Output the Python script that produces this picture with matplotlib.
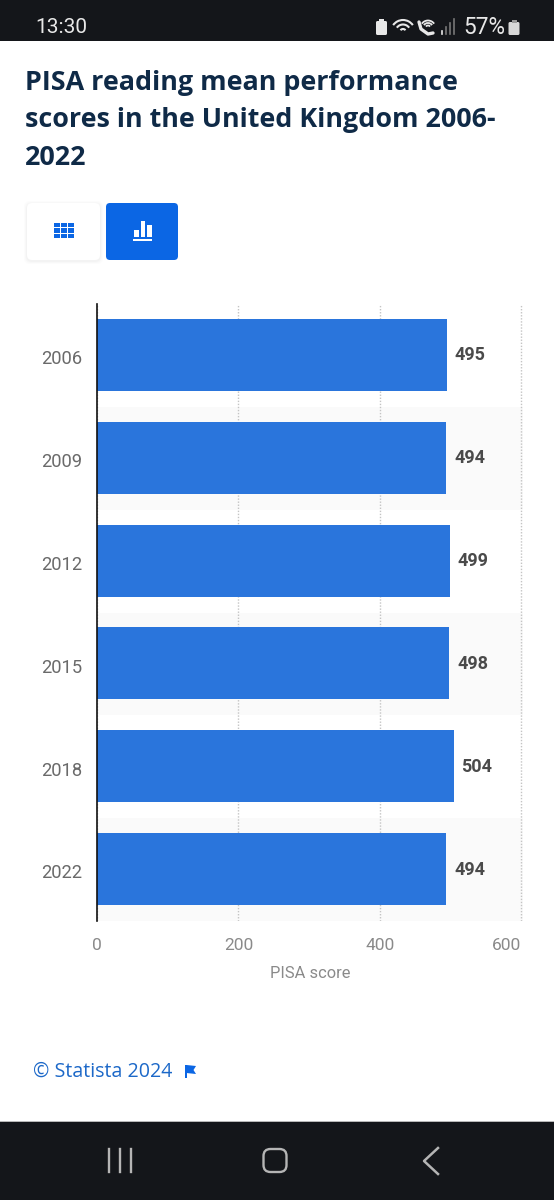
# PISA reading scores for the UK, as seen in a phone screenshot of the Statista page

import matplotlib
matplotlib.use("Agg")
import matplotlib.pyplot as plt
import matplotlib.transforms as mtrans
from matplotlib.patches import FancyBboxPatch, Rectangle, Polygon, Arc

anos = ["2006", "2009", "2012", "2015", "2018", "2022"]
pontuacao = [495, 494, 499, 498, 504, 494]
ticks_x = [0, 200, 400, 600]
titulo = ["PISA reading mean performance", "scores in the United Kingdom 2006-", "2022"]

W, H = 554, 1200
ESCURO = "#14161a"
AZUL = "#2a75dc"
AZUL_BOTAO = "#0b66e4"

fig = plt.figure(figsize=(W / 100, H / 100), dpi=100, facecolor="white")

# the chart itself
ax = fig.add_axes([97 / W, 1 - 921 / H, (522.5 - 97) / W, (921 - 304) / H])
ax.set_xlim(0, 601.5)
ax.set_ylim(len(anos) - 0.5, -0.5)
for i in range(1, len(anos), 2):
    ax.axhspan(i - 0.5, i + 0.5, color="#fafafa", lw=0, zorder=0)
ax.set_xticks(ticks_x)
ax.grid(axis="x", color="#c4c4c4", linestyle=(0, (1, 1.2)), linewidth=1, zorder=1)
ax.barh([i - 0.005 for i in range(len(anos))], pontuacao, height=0.70, color=AZUL, zorder=2)
for i, v in enumerate(pontuacao):
    ax.annotate(str(v), (v, i), xytext=(5.6, 0), textcoords="offset points", va="center", ha="left",
                family="Roboto", weight="bold", fontsize=13, color="#4a4a4a")

for s in ["top", "right", "bottom"]:
    ax.spines[s].set_visible(False)
ax.spines["left"].set_color("#111111")
ax.spines["left"].set_linewidth(1.2)
ax.spines["left"].set_zorder(5)
ax.set_facecolor("white")

ax.set_yticks(range(len(anos)))
ax.set_yticklabels(anos, family="Roboto", fontsize=13.2, color="#6a6a6a")
ax.tick_params(axis="y", length=0, pad=10.5)
ax.tick_params(axis="x", length=0, pad=12.5)
ax.set_xticklabels([str(t) for t in ticks_x], family="Roboto", fontsize=12.5, color="#8a8a8a")
ax.get_xticklabels()[-1].set_ha("right")
ax.set_xlabel("PISA score", family="Roboto", fontsize=11.9, color="#8a8a8a", labelpad=9)
# year labels sit a little lower than the bar centres
desce = mtrans.ScaledTranslation(0, -1.8 / 100, fig.dpi_scale_trans)
for lab in ax.get_yticklabels():
    lab.set_transform(lab.get_transform() + desce)

# page chrome, in pixel coordinates
tela = fig.add_axes([0, 0, 1, 1], zorder=-1)
tela.set_xlim(0, W)
tela.set_ylim(H, 0)
tela.axis("off")
topo = fig.add_axes([0, 0, 1, 1], zorder=3)
topo.set_xlim(0, W)
topo.set_ylim(H, 0)
topo.axis("off")
topo.patch.set_alpha(0)

tela.add_patch(Rectangle((0, 0), W, 41, color=ESCURO, lw=0))
tela.add_patch(Rectangle((0, 1122), W, 78, color=ESCURO, lw=0))
tela.add_patch(Rectangle((0, 1120.5), W, 1.5, color="#b8b8b8", lw=0))

# status bar
topo.text(35, 27.5, "13:30", family="Roboto", fontsize=15, color="#e8e8e8", va="center", ha="left")
topo.text(463, 27.5, "57%", family="Roboto", fontsize=16.3, color="#e8e8e8", va="center", ha="left")
topo.add_patch(FancyBboxPatch((376, 21), 11, 14, boxstyle="round,pad=0,rounding_size=1.5", color="#e8e8e8", lw=0))
topo.add_patch(Rectangle((379, 19), 5, 2, color="#e8e8e8", lw=0))
topo.add_patch(FancyBboxPatch((508.5, 22), 11, 13, boxstyle="round,pad=0,rounding_size=1.5", color="#d8d8d8", lw=0))
topo.add_patch(Rectangle((511.5, 19.5), 5, 3, color="#9a9a9a", lw=0))
for r in [6, 15, 24]:
    topo.add_patch(Arc((403, 32), r, r, theta1=215, theta2=325, color="#e8e8e8", lw=1.5))
for r in [5, 10, 15]:
    topo.add_patch(Arc((428, 28), r, r, theta1=215, theta2=325, color="#e8e8e8", lw=1.3))
topo.plot([419, 421, 428, 433], [22, 29, 34, 33], color="#e8e8e8", lw=2.4, solid_capstyle="round")
for k, alt in enumerate([3, 7, 11, 15]):
    topo.plot([442 + k * 4] * 2, [34, 34 - alt], color="#e8e8e8" if k == 0 else "#777777", lw=1.2)

# title
for y, linha in zip([83, 120, 158], titulo):
    topo.text(25, y, linha, family="Open Sans", weight="bold", fontsize=19.4, color="#0f2a47",
              va="center", ha="left")

# view switch buttons
for off, alfa in [(3, 0.012), (2, 0.015), (1, 0.02)]:
    topo.add_patch(FancyBboxPatch((27 - off, 203 - off + 1), 73 + 2 * off, 57 + 2 * off,
                                  boxstyle="round,pad=0,rounding_size=6", color="black", alpha=alfa, lw=0))
topo.add_patch(FancyBboxPatch((27, 203), 73, 57, boxstyle="round,pad=0,rounding_size=5", color="white", lw=0))
topo.add_patch(FancyBboxPatch((106, 203), 72, 57, boxstyle="round,pad=0,rounding_size=4", color=AZUL_BOTAO, lw=0))
for col in range(3):
    for lin in range(3):
        topo.add_patch(Rectangle((54 + col * 7, 222.5 + lin * 5.7), 6, 4.5, color=AZUL_BOTAO, lw=0))
for x0, alt in [(134, 7), (140.5, 16), (147, 12)]:
    topo.add_patch(Rectangle((x0, 237 - alt), 4.5, alt, color="white", lw=0))
topo.add_patch(Rectangle((133, 239), 19, 1.6, color="white", lw=0))

# footer
topo.text(33, 1072, "© Statista 2024", family="Open Sans", fontsize=14.1, color="#1c68c8", va="center", ha="left")
topo.add_patch(Rectangle((185, 1065), 1.6, 13, color=AZUL_BOTAO, lw=0))
topo.add_patch(Polygon([(186.5, 1065), (196, 1066), (193.5, 1070), (196, 1074), (186.5, 1073)], color=AZUL_BOTAO, lw=0))

# navigation bar
for x0 in [109, 120, 131]:
    topo.plot([x0, x0], [1149, 1172], color="#b5b5b5", lw=1.7)
topo.add_patch(FancyBboxPatch((263.5, 1149), 23, 23, boxstyle="round,pad=0,rounding_size=7",
                              fc="none", ec="#b5b5b5", lw=1.7))
topo.plot([438, 424, 438], [1148, 1161, 1174], color="#b5b5b5", lw=1.8)

fig.savefig("out.png", dpi=100, facecolor="white")
